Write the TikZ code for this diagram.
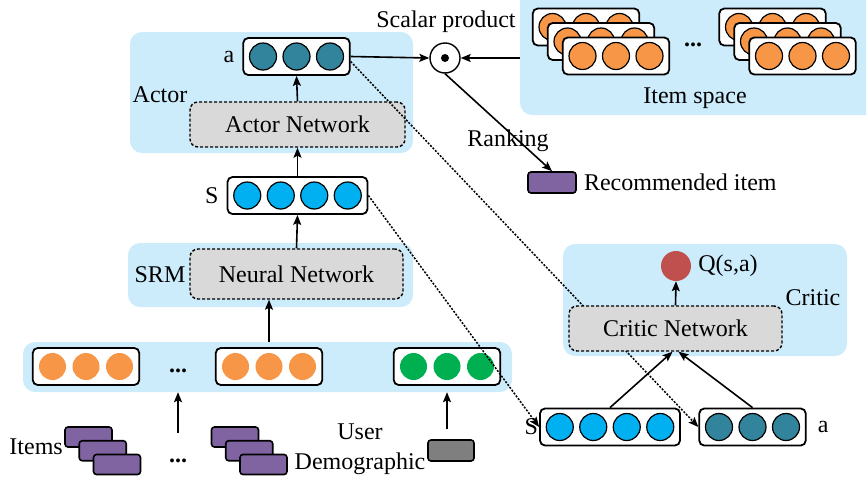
\documentclass[tikz,border=0pt]{standalone}
\usepackage{fontspec}
\setmainfont{Liberation Serif}
\usetikzlibrary{arrows.meta, positioning, calc}

\definecolor{panelblue}{RGB}{204,236,252}
\definecolor{netgray}{RGB}{217,217,217}
\definecolor{actionteal}{RGB}{49,132,155}
\definecolor{stateblue}{RGB}{0,176,240}
\definecolor{itemorange}{RGB}{247,150,70}
\definecolor{usergreen}{RGB}{0,176,80}
\definecolor{itempurple}{RGB}{128,100,162}
\definecolor{qred}{RGB}{192,80,77}
\definecolor{demogray}{RGB}{127,127,127}

\tikzset{
  panel/.style={fill=panelblue, draw=none, rounded corners=12pt},
  netbox/.style={draw, dashed, dash pattern=on 3pt off 2pt, line width=1.4pt, fill=netgray, rounded corners=8pt},
  vecbox/.style={draw, line width=1.8pt, fill=white, rounded corners=5pt, minimum height=37pt},
  unit/.style={circle, draw, line width=1.2pt, minimum size=27pt, inner sep=0pt},
  card/.style={draw, line width=1.6pt, rounded corners=3pt, minimum width=47pt, minimum height=20pt, inner sep=0pt},
  flow/.style={-{Stealth[length=10pt,width=8pt,inset=2pt]}, line width=1.6pt},
  feed/.style={-{Stealth[length=10pt,width=8pt,inset=2pt]}, line width=1.5pt, dash pattern=on 2pt off 1.5pt},
  lbl/.style={inner sep=1pt}
}

% a rounded box holding a row of units
\newcommand{\unitrow}[5][]{%
  \node[vecbox, minimum width={#4*33.5pt+6pt}] (#2) at (#3) {};
  \foreach \k in {1,...,#4}
    \node[unit, fill=#5, #1] at ($(#2.center)+({(\k-(#4+1)/2)*33.5},0)$) {};
}

\begin{document}
\begin{tikzpicture}[x=1pt, y=-1pt, font=\fontsize{24}{28}\selectfont]
\useasboundingbox (0,0) rectangle (866,482);

% background panels
\node[panel, minimum width=283pt, minimum height=121pt] (actorbg) at (271.5,92.5) {};
\node[panel, minimum width=285pt, minimum height=64pt] (srmbg) at (270.5,275) {};
\node[panel, minimum width=489pt, minimum height=50pt] (rowbg) at (267.5,367) {};
\node[panel, minimum width=360pt, minimum height=135pt] (itembg) at (700,47.5) {};
\node[panel, minimum width=284pt, minimum height=112pt] (criticbg) at (705,300) {};

% actor
\unitrow{abox}{296.5,56.5}{3}{actionteal}
\node[lbl, left=7pt of abox] (alabel) {a};
\node (actorlbl) at (160,95) {Actor};
\node[netbox, minimum width=215pt, minimum height=45pt] (actnet) at (297.5,124.5) {Actor Network};

% state representation
\unitrow{sbox}{297.5,195.5}{4}{stateblue}
\node[lbl, left=7pt of sbox] (slabel) {S};
\node (srmlbl) at (160,275) {SRM};
\node[netbox, minimum width=213pt, minimum height=50pt] (neural) at (296.5,274) {Neural Network};

% embeddings row
\unitrow[draw=none]{rowA}{86,366.5}{3}{itemorange}
\node (dotsA) at (178,371) {\textbf{...}};
\unitrow[draw=none]{rowB}{269,366.5}{3}{itemorange}
\unitrow[draw=none]{rowC}{447,366.5}{3}{usergreen}

% inputs
\foreach \d in {0,1,2}
  \node[card, fill=itempurple] (itA\d) at ($(88.5,437)+(14.25*\d,13.75*\d)$) {};
\node[lbl, anchor=east] (itemslbl) at (64,447) {Items};
\node (dotsB) at (178,461) {\textbf{...}};
\foreach \d in {0,1,2}
  \node[card, fill=itempurple] (itB\d) at ($(235,437)+(14.25*\d,13.75*\d)$) {};
\node[align=center, lbl] (userlbl) at (360,449) {User\\[2pt]Demographic};
\node[card, fill=demogray, minimum width=46pt, minimum height=21pt] (demo) at (451,450.5) {};

% item space
\foreach \x in {586,772.5}
  \foreach \d in {0,1,2}
    \unitrow{sp\d}{\x+15*\d,27+14.5*\d}{3}{itemorange};
\node (dotsC) at (693,45) {\textbf{...}};
\node (spacelbl) at (695,98) {Item space};

% scalar product and ranking
\node[circle, draw, line width=1.4pt, fill=white, minimum size=30pt, inner sep=0pt] (prod) at (445,58) {};
\fill (prod.center) circle (4pt);
\node (prodlbl) at (446,22) {Scalar product};
\node[card, fill=itempurple, minimum width=48pt, minimum height=21pt] (rec) at (552,182.5) {};
\node[lbl, right=6pt of rec] (reclbl) {Recommended item};
\node (ranklbl) at (508,141) {Ranking};

% critic
\node[circle, fill=qred, minimum size=30pt, inner sep=0pt] (qval) at (676,266) {};
\node[lbl, right=6pt of qval] (qlbl) {Q(s,a)};
\node (criticlbl) at (813,298) {Critic};
\unitrow{csbox}{610,427}{4}{stateblue}
\node[lbl, left=0pt of csbox] (cslabel) {S};
\unitrow{cabox}{752.5,427}{3}{actionteal}
\node[lbl, right=10pt of cabox] (calabel) {a};

% action and state passed on to the critic
\draw[feed] ([yshift=-5pt]abox.east) -- (cabox.west);
\draw[feed] (sbox.east) -- (csbox.west);
\node[netbox, minimum width=213pt, minimum height=45pt] (cnet) at (675.5,328.5) {Critic Network};

% connectors
\draw[flow] (actnet.north) -- (abox.south);
\draw[flow] (sbox.north) -- (actnet.south);
\draw[flow] (neural.north) -- (sbox.south);
\draw[flow] (rowbg.north -| rowB) -- (neural.south -| rowB);
\draw[flow] ([yshift=28pt]dotsB.center) -- (rowbg.south -| dotsB);
\draw[flow] ([yshift=10pt]demo.north -| rowC) -- (rowbg.south -| rowC);
\draw[flow] (abox.east) -- (prod.west);
\draw[flow] (itembg.west |- prod) -- (prod.east);
\draw[flow] (prod.south) -- (rec.north);
\draw[flow] (cnet.north) -- (qval.south);
\draw[flow] (csbox.north) -- ([xshift=-3pt]cnet.south);
\draw[flow] (cabox.north) -- ([xshift=3pt]cnet.south);
\end{tikzpicture}
\end{document}
